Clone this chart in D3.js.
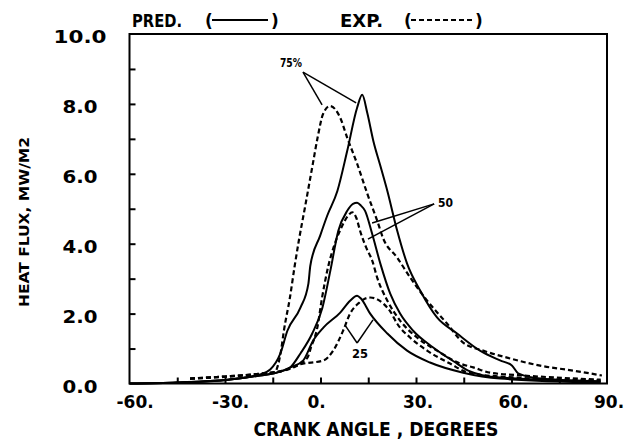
<!DOCTYPE html>
<html><head><meta charset="utf-8">
<script src="https://cdn.jsdelivr.net/npm/d3@7/dist/d3.min.js"></script>
<style>body{margin:0;background:#fff}svg{display:block}text{font-family:"DejaVu Sans",sans-serif;font-weight:bold;fill:#000}</style>
</head><body>
<svg id="c" width="625" height="440"></svg>
<script>
// ---- data (crank angle in degrees, heat flux in MW/m2) ----
const xTicks = [-60, -30, 0, 30, 60, 90];
const xTickLabels = ["-60.", "-30.", "0.", "30.", "60.", "90."];
const xMinorTicks = [-45, -30, -15, 0, 15, 30, 45, 60, 75];
const yTicks = [0, 2, 4, 6, 8, 10];
const yTickLabels = ["0.0", "2.0", "4.0", "6.0", "8.0", "10.0"];
const yMinorTicks = [1, 2, 3, 4, 5, 6, 7, 8, 9];

const pred75 = [[-60,0],[-45,0.03],[-29,0.11],[-19,0.26],[-15.8,0.4],[-12.6,0.86],[-10.4,1.51],[-6.3,2.17],[-3.8,2.86],[-3.2,3.37],[-0.1,4.23],[2.1,4.8],[5.3,5.51],[8.4,6.66],[11.5,7.89],[13.1,8.26],[14.7,7.74],[16.6,6.94],[18.8,6.23],[21,5.51],[24.1,4.37],[27.2,3.43],[31.3,2.66],[36.6,1.89],[42.9,1.43],[50.1,0.94],[56.4,0.66],[60.2,0.51],[62.1,0.29],[69,0.14],[88,0.06]];
const exp75 = [[-41,0.14],[-28.3,0.2],[-18.9,0.27],[-14.3,0.33],[-13.4,0.51],[-12.4,0.94],[-11.5,1.51],[-9.6,2.46],[-8.1,3.37],[-6.8,4.09],[-4.9,5.03],[-2.4,6.29],[-0.8,7.09],[0.8,7.71],[3.0,7.94],[6.2,7.6],[8.4,7.03],[11.5,6.29],[14.7,5.43],[17.8,4.66],[19.7,4.15],[24.1,3.6],[28.2,3.03],[33.5,2.37],[39.8,1.71],[44.8,1.17],[51.1,0.94],[58.6,0.74],[69,0.51],[79.3,0.37],[88.4,0.23]];
const pred50 = [[-60,0],[-45,0.03],[-29,0.11],[-19,0.23],[-12.6,0.34],[-9.5,0.46],[-6.3,0.86],[-2.6,1.43],[0.6,2.17],[3.1,3.23],[5.6,4.37],[8.4,4.94],[10.2,5.14],[11.5,5.17],[12.7,5.09],[14,4.94],[16.2,4.29],[18.8,3.43],[21.9,2.57],[25,2.0],[29.1,1.51],[35.4,1.03],[42.9,0.57],[46.4,0.37],[56.4,0.17],[88,0.06]];
const exp50 = [[-41,0.14],[-30,0.2],[-19,0.28],[-12,0.36],[-8.5,0.46],[-4.1,0.74],[-3,1.03],[-1,1.6],[0.5,2.46],[2.3,3.3],[4.5,4.0],[6.5,4.45],[8.5,4.78],[10,4.9],[11.2,4.75],[12.5,4.35],[14.3,3.9],[16.3,3.5],[17.8,3.03],[21,2.37],[25,1.8],[30.4,1.31],[36.6,0.94],[43.9,0.57],[48,0.46],[53.3,0.31],[63.6,0.23],[88,0.11]];
const pred25 = [[-60,0],[-45,0.03],[-29,0.11],[-19,0.23],[-12.6,0.34],[-9.5,0.46],[-5.4,0.66],[-2.3,1.23],[0.9,1.6],[6.2,2.03],[9.3,2.37],[11.5,2.51],[12.7,2.43],[15.6,2.0],[21,1.43],[27.2,0.94],[34.4,0.6],[44.8,0.31],[56.4,0.14],[88,0.03]];
const exp25 = [[-41,0.14],[-30,0.2],[-19,0.28],[-12,0.36],[-6.3,0.55],[0.9,0.66],[4,0.94],[7.1,1.51],[9.3,2.0],[12,2.3],[13.4,2.4],[15.6,2.46],[18,2.4],[19.7,2.29],[22,2.05],[24.1,1.71],[28.2,1.31],[33.5,0.94],[40.7,0.57],[46.4,0.31],[56.4,0.2],[88,0.09]];

// annotations: [label, label position, leader vertex, leader ends]
const annotations = [
  {text: "75%", at: [-9.3, 9.06], vertex: [-5.5, 8.91], ends: [[0.5, 7.97], [11.2, 8.03]], len: 22},
  {text: "50",  at: [39.3, 5.05], vertex: [35.7, 5.14], ends: [[16.2, 4.59], [14.9, 4.13]], len: 15},
  {text: "25",  at: [12.4, 0.73], vertex: [11.5, 1.16], ends: [[7.7, 1.67], [16.5, 1.82]], len: 16}
];

// ---- drawing ----
const svg = d3.select("#c");
const x = d3.scaleLinear([-60, 90], [129.5, 607]);
const y = d3.scaleLinear([0, 10], [383.5, 34]);

// frame
svg.append("rect").attr("x", x(-60)).attr("y", y(10))
  .attr("width", x(90) - x(-60)).attr("height", y(0) - y(10))
  .attr("fill", "none").attr("stroke", "#000").attr("stroke-width", 2);

// inward ticks
svg.append("g").attr("transform", `translate(${x(-60)},0)`)
  .call(d3.axisLeft(y).tickValues(yMinorTicks).tickSize(-6).tickFormat(""))
  .call(g => g.select(".domain").remove())
  .selectAll("line").attr("stroke-width", 2);
svg.append("g").attr("transform", `translate(0,${y(0)})`)
  .call(d3.axisBottom(x).tickValues(xMinorTicks).tickSize(-6).tickFormat(""))
  .call(g => g.select(".domain").remove())
  .selectAll("line").attr("stroke-width", 2);

// tick labels
svg.append("g").selectAll("text").data(yTicks).join("text")
  .attr("x", 80).attr("y", d => y(d) + 9)
  .attr("text-anchor", "middle").attr("font-size", 17)
  .attr("textLength", (d, i) => yTickLabels[i].length > 3 ? 53 : 35)
  .attr("lengthAdjust", "spacingAndGlyphs")
  .text((d, i) => yTickLabels[i]);
svg.append("g").selectAll("text").data(xTicks).join("text")
  .attr("x", d => x(d) - 13).attr("y", 408)
  .attr("font-size", 17)
  .text((d, i) => xTickLabels[i]);

// axis titles
svg.append("text").attr("x", 376).attr("y", 436).attr("text-anchor", "middle")
  .attr("font-size", 19).attr("textLength", 245).attr("lengthAdjust", "spacingAndGlyphs")
  .text("CRANK ANGLE , DEGREES");
svg.append("text").attr("transform", "translate(29,222) rotate(-90)").attr("text-anchor", "middle")
  .attr("font-size", 14).attr("textLength", 170).attr("lengthAdjust", "spacingAndGlyphs")
  .text("HEAT FLUX, MW/M2");

// legend
const lg = svg.append("g").attr("font-size", 17);
lg.append("text").attr("x", 132).attr("y", 27).attr("textLength", 50).attr("lengthAdjust", "spacingAndGlyphs").text("PRED.");
lg.append("text").attr("x", 205).attr("y", 27).text("(");
lg.append("line").attr("x1", 212).attr("x2", 268).attr("y1", 20).attr("y2", 20).attr("stroke", "#000").attr("stroke-width", 2);
lg.append("text").attr("x", 271).attr("y", 27).text(")");
lg.append("text").attr("x", 340).attr("y", 27).attr("textLength", 43).attr("lengthAdjust", "spacingAndGlyphs").text("EXP.");
lg.append("text").attr("x", 404).attr("y", 27).text("(");
lg.append("line").attr("x1", 411).attr("x2", 474).attr("y1", 20).attr("y2", 20).attr("stroke", "#000").attr("stroke-width", 2).attr("stroke-dasharray", "5,3");
lg.append("text").attr("x", 475).attr("y", 27).text(")");

// curves
const line = d3.line().x(d => x(d[0])).y(d => y(d[1])).curve(d3.curveMonotoneX);
const series = [
  {data: pred75, dash: null}, {data: pred50, dash: null}, {data: pred25, dash: null},
  {data: exp75, dash: "5,3"}, {data: exp50, dash: "5,3"}, {data: exp25, dash: "5,3"}
];
svg.append("g").selectAll("path").data(series).join("path")
  .attr("d", d => line(d.data))
  .attr("fill", "none").attr("stroke", "#000")
  .attr("stroke-width", d => d.dash ? 2.2 : 2)
  .attr("stroke-dasharray", d => d.dash);

// annotations
const ag = svg.append("g");
annotations.forEach(a => {
  a.ends.forEach(e => {
    ag.append("line").attr("x1", x(a.vertex[0])).attr("y1", y(a.vertex[1]))
      .attr("x2", x(e[0])).attr("y2", y(e[1])).attr("stroke", "#000").attr("stroke-width", 1.5);
  });
  ag.append("text").attr("x", x(a.at[0])).attr("y", y(a.at[1])).attr("text-anchor", "middle")
    .attr("font-size", 13).attr("textLength", a.len).attr("lengthAdjust", "spacingAndGlyphs").text(a.text);
});
</script>
</body></html>
